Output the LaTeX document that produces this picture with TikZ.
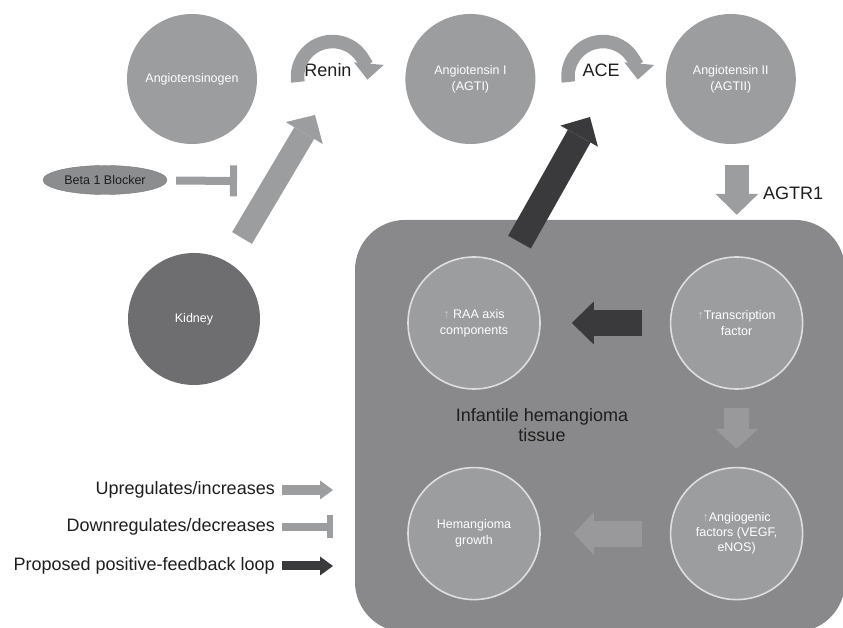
\documentclass[tikz,border=0pt]{standalone}
\usepackage{fontspec}
\setmainfont{Liberation Sans}
\usetikzlibrary{shapes.geometric, arrows.meta, positioning, calc}
\definecolor{cLight}{RGB}{156,157,159}
\definecolor{cInner}{RGB}{153,153,155}
\definecolor{cTissue}{RGB}{137,137,139}
\definecolor{cKidney}{RGB}{110,110,112}
\definecolor{cPill}{RGB}{140,141,143}
\definecolor{cDark}{RGB}{58,58,60}
\definecolor{cText}{RGB}{30,30,30}
\definecolor{cRim}{RGB}{222,222,224}
\definecolor{cUp}{RGB}{205,205,207}
\tikzset{
	molecule/.style ={circle, minimum size=130pt, inner sep=0pt, fill=cLight, text=white, align=center, font=\fontsize{12.5}{16}\selectfont},
	organ/.style    ={molecule, minimum size=132pt, fill=cKidney},
	drug/.style     ={ellipse, minimum width=124pt, minimum height=29pt, inner sep=0pt, fill=cPill, draw=cPill!85!black, text=cText, font=\fontsize{12.5}{15}\selectfont},
	tisscirc/.style ={molecule, minimum size=132pt, draw=cRim, line width=1.6pt},
	tissuebox/.style={rectangle, rounded corners=50pt, fill=cTissue, inner sep=0pt, minimum width=490pt, minimum height=412pt},
	biglabel/.style ={text=cText, font=\fontsize{18}{20}\selectfont, align=center, inner sep=0pt},
	% broad arrows
	upflow/.style   ={draw=cLight, line width=24pt, -{Triangle[length=21pt, width=43pt, line width=0pt]}},
	loopflow/.style ={draw=cDark, line width=26pt, -{Triangle[length=22pt, width=43pt, line width=0pt]}},
	innerflow/.style={draw=cInner, line width=26pt, -{Triangle[length=20pt, width=43pt, line width=0pt]}},
	arcflow/.style  ={draw=cLight, line width=13.5pt, -{Triangle[length=16pt, width=30pt, line width=0pt]}},
	inhibit/.style  ={draw=cLight, line width=8pt, -{Bar[width=31pt, line width=7pt]}},
	% legend arrows
	legup/.style    ={draw=cLight, line width=10pt, -{Triangle[length=13pt, width=19pt, line width=0pt]}},
	legstop/.style  ={draw=cLight, line width=8pt, -{Bar[width=23pt, line width=6pt]}},
	legloop/.style  ={draw=cDark, line width=9pt, -{Triangle[length=13pt, width=19pt, line width=0pt]}},
}
\begin{document}
\begin{tikzpicture}[x=1pt, y=1pt]
	\useasboundingbox (0,0) rectangle (843,628);
	\node[tissuebox] (tissue) at (600,202) {};
	\node[molecule] (agt) at (192,549) {Angiotensinogen};
	\node[molecule, right=148pt of agt] (ang1) {Angiotensin I\\(AGTI)};
	\node[molecule, right=130pt of ang1] (ang2) {Angiotensin II\\(AGTII)};
	\node[drug] (beta) at (105,448) {Beta 1 Blocker};
	\node[organ] (kidney) at (194,309) {Kidney};
	\node[tisscirc] (raa) at (474,305) {\textcolor{cUp}{↑} RAA axis\\components};
	\node[tisscirc, right=129pt of raa] (tf) {\textcolor{cUp}{↑}Transcription\\factor};
	\node[tisscirc, below=77pt of tf, font=\fontsize{12.5}{15}\selectfont] (angio) {\textcolor{cUp}{↑}Angiogenic\\factors (VEGF,\\eNOS)};
	\node[tisscirc, left=129pt of angio] (growth) {Hemangioma\\growth};
	\node[biglabel] (renin) at (328,558) {Renin};
	\node[biglabel] (ace) at (601,558) {ACE};
	\node[biglabel, anchor=west] (agtr) at (763,435) {AGTR1};
	\node[biglabel] (tisslbl) at (542,203) {Infantile hemangioma\\tissue};
	\coordinate (reninin) at (315,513);
	\coordinate (acein) at (590,511);
	\coordinate (betastop) at (237,447);

	\draw[arcflow] ([shift={(-30pt,-12pt)}]renin.center) arc[start angle=189, end angle=-5, radius=35pt];
	\draw[arcflow] ([shift={(-32.6pt,-12pt)}]ace.center) arc[start angle=189, end angle=-5, radius=35pt];
	\draw[inhibit, shorten <=9pt] (beta) -- (betastop);
	\draw[upflow, line width=23pt, shorten <=28pt] (kidney) -- (reninin);
	\draw[upflow, shorten <=21pt, shorten >=5pt] ([xshift=6pt]ang2.south) -- ([xshift=6pt]ang2.south |- tissue.north);
	\draw[loopflow, shorten <=26pt] (raa) -- (acein);
	\draw[loopflow, shorten <=28pt, shorten >=31pt] (tf) -- (raa);
	\draw[innerflow, line width=25pt, shorten <=18pt, shorten >=18pt] (tf) -- (angio);
	\draw[innerflow, shorten <=28pt, shorten >=33pt] (angio) -- (growth);

	% legend
	\node[biglabel, anchor=east] (lgup) at (275,138) {Upregulates/increases};
	\node[biglabel, anchor=east] (lgstop) at (275,101) {Downregulates/decreases};
	\node[biglabel, anchor=east] (lgloop) at (275,62) {Proposed positive-feedback loop};
	\coordinate (lgupend) at (333,138);
	\coordinate (lgstopend) at (333,101);
	\coordinate (lgloopend) at (333,62);
	\draw[legup, shorten <=7pt] (lgup.east) -- (lgupend);
	\draw[legstop, shorten <=7pt] (lgstop.east) -- (lgstopend);
	\draw[legloop, shorten <=7pt] (lgloop.east) -- (lgloopend);
\end{tikzpicture}
\end{document}
